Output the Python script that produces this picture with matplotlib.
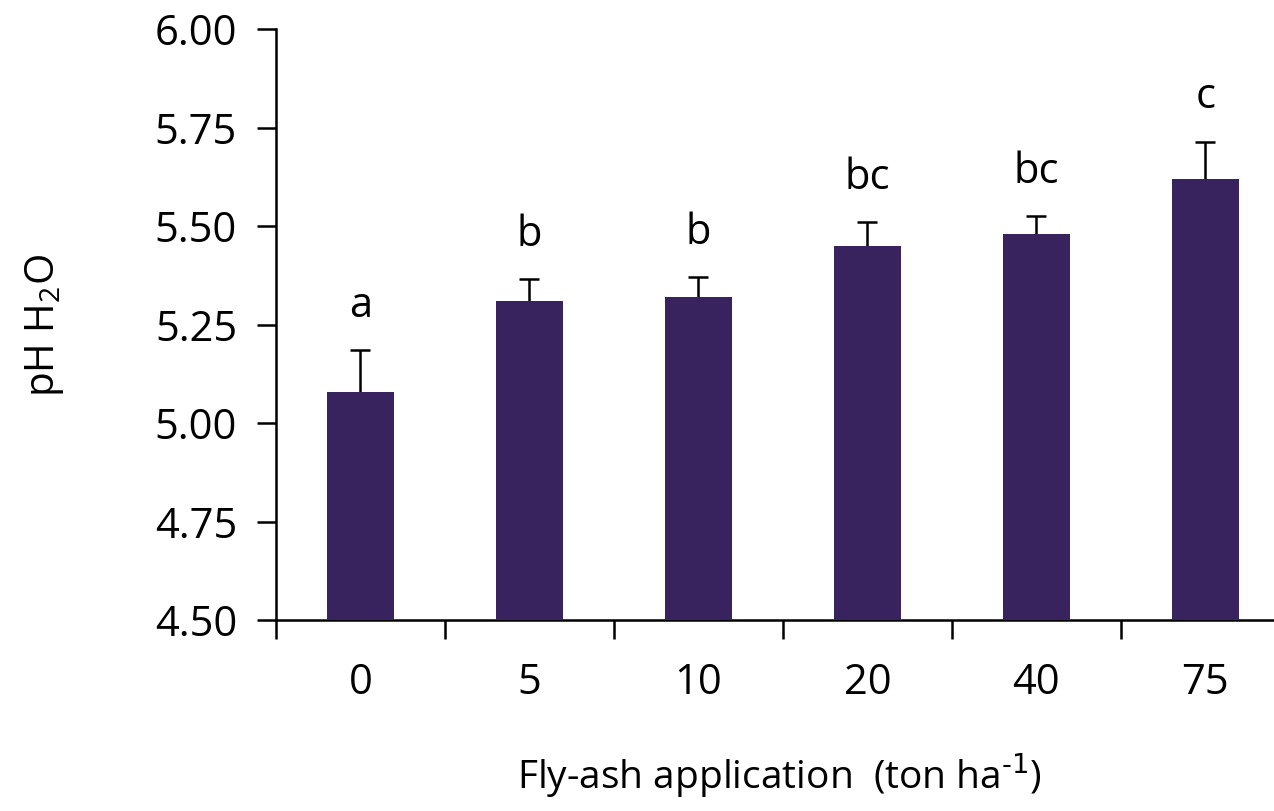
import matplotlib
matplotlib.use("Agg")
import matplotlib.pyplot as plt
import numpy as np

# fly-ash rates (ton/ha), mean soil pH and standard error
rates = ["0", "5", "10", "20", "40", "75"]
ph_mean = [5.08, 5.31, 5.32, 5.45, 5.48, 5.62]
ph_err = [0.105, 0.055, 0.05, 0.06, 0.045, 0.095]
groups = ["a", "b", "b", "bc", "bc", "c"]

plt.rcParams["font.family"] = ["Open Sans", "DejaVu Sans"]

fig = plt.figure(figsize=(12.74, 8.11), dpi=100)
ax = fig.add_axes([0.2166, 0.2355, 0.7958, 0.7284])

x = np.arange(len(rates))
# bars drawn over the error bars so only the upper half shows
ax.bar(x, ph_mean, width=0.4, color="#38235e", zorder=3)
ax.errorbar(x, ph_mean, yerr=ph_err, fmt="none",
            ecolor="black", elinewidth=1.8, capsize=7.5, capthick=1.8, zorder=2)

for xi, m, e, g in zip(x, ph_mean, ph_err, groups):
    ax.text(xi, m + e + 0.06, g, ha="center", va="bottom", fontsize=30)

ax.set_xlim(-0.5, len(rates) - 0.5)
ax.set_ylim(4.5, 6.0)
yt = np.arange(4.5, 6.01, 0.25)
ax.set_yticks(yt)
ax.set_yticklabels([f"{v:.2f}" for v in yt])

# boundary ticks on the x axis, labels sit between them
ax.set_xticks(np.arange(-0.5, len(rates), 1.0))
ax.set_xticklabels([])
ax.set_xticks(x, minor=True)
ax.set_xticklabels(rates, minor=True)
ax.tick_params(axis="x", which="minor", length=0, pad=30, labelsize=30)
ax.tick_params(axis="x", which="major", length=14, width=1.8, direction="out")
ax.tick_params(axis="y", length=14, width=1.8, direction="out", pad=14, labelsize=30)

for side in ["top", "right"]:
    ax.spines[side].set_visible(False)
ax.spines["left"].set_linewidth(1.8)
ax.spines["bottom"].set_linewidth(1.8)

fig.text(0.035, 0.599, "pH H$_\\mathregular{2}$O", rotation=90, ha="center", va="center",
         fontsize=29)
fig.text(0.612, 0.045, "Fly-ash application  (ton ha$^{\\text{-1}}$)", ha="center",
         va="center", fontsize=28)

fig.savefig("out.png", dpi=100)
